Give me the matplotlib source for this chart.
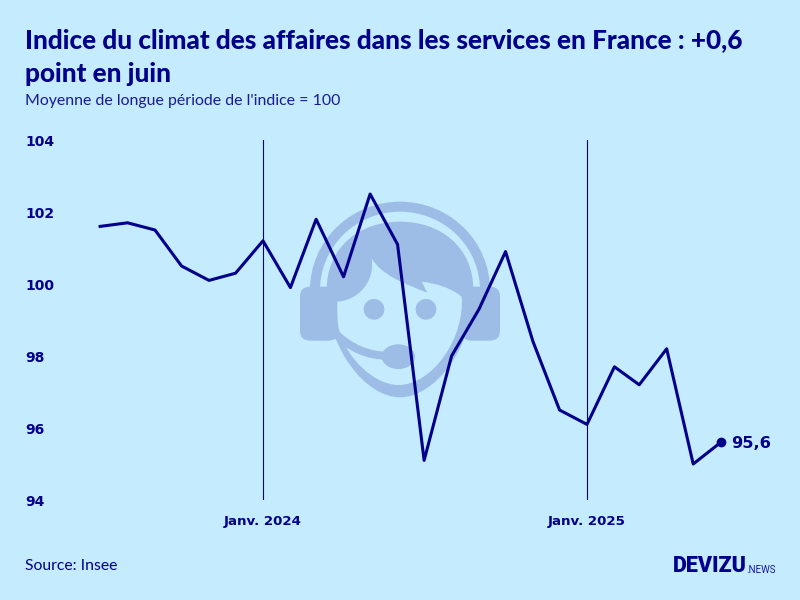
import datetime as dt
import matplotlib
matplotlib.use("Agg")
import matplotlib.pyplot as plt
import matplotlib.dates as mdates
from matplotlib.patches import Circle, Ellipse, FancyBboxPatch, PathPatch
from matplotlib.path import Path

years = [2023]*6 + [2024]*12 + [2025]*6
months = [7, 8, 9, 10, 11, 12] + list(range(1, 13)) + list(range(1, 7))
values = [101.6, 101.7, 101.5, 100.5, 100.1, 100.3, 101.2, 99.9, 101.8, 100.2, 102.5, 101.1,
          95.1, 98.0, 99.3, 100.9, 98.4, 96.5, 96.1, 97.7, 97.2, 98.2, 95.0, 95.6]
y_ticks = [94, 96, 98, 100, 102, 104]
x_marks = [dt.date(2024, 1, 1), dt.date(2025, 1, 1)]
x_labels = ["Janv. 2024", "Janv. 2025"]
title_lines = ["Indice du climat des affaires dans les services en France : +0,6", "point en juin"]
subtitle = "Moyenne de longue période de l'indice = 100"
source = "Source: Insee"
end_label = "95,6"

BG = "#C4EBFE"
NAVY = "#00008B"
ICON = "#9DBCE6"
dates = [dt.date(y, m, 1) for y, m in zip(years, months)]

fig = plt.figure(figsize=(8, 6), dpi=100, facecolor=BG)

# decorative icon, background layer (units: 1/3 px, origin at 290,190)
ic = fig.add_axes([0, 0, 1, 1], zorder=0)
ic.set_xlim(-870, 1530)
ic.set_ylim(1230, -570)
ic.axis("off")
ic.add_patch(Ellipse((330, 300), 540, 530, fc=ICON, ec="none"))
ic.add_patch(Ellipse((330, 300), 480, 470, fc=BG, ec="none"))
ic.fill_between([0, 660], 290, 700, color=BG, lw=0, zorder=1)
for x0 in (30, 515):
    ic.add_patch(FancyBboxPatch((x0 + 30, 320), 55, 102, boxstyle="round,pad=30,rounding_size=30",
                                fc=ICON, ec="none", zorder=2))
M, C, Z = Path.MOVETO, Path.CURVE4, Path.CLOSEPOLY
head = [(110, 300), (110, 170), (210, 95), (330, 95), (450, 95), (550, 170), (550, 300),
        (550, 480), (430, 622), (330, 622), (230, 622), (110, 480), (110, 300), (110, 300)]
ic.add_patch(PathPatch(Path(head, [M] + [C]*12 + [Z]), fc=ICON, ec="none", zorder=3))
face = [(142, 335), (210, 330), (255, 270), (245, 205),
        (275, 255), (340, 280), (412, 308),
        (405, 295), (400, 285), (395, 275),
        (440, 280), (485, 295), (515, 320),
        (525, 440), (430, 585), (325, 585),
        (250, 585), (170, 500), (150, 430),
        (140, 400), (142, 360), (142, 335), (142, 335)]
ic.add_patch(PathPatch(Path(face, [M] + [C]*21 + [Z]), fc=BG, ec="none", zorder=4))
boom = [(125, 420), (180, 478), (240, 497), (290, 497)]
ic.add_patch(PathPatch(Path(boom, [M, C, C, C]), fc="none", ec=ICON, lw=5.8, zorder=5))
ic.add_patch(Ellipse((325, 500), 100, 74, fc=ICON, ec="none", zorder=5))
for ex in (252, 408):
    ic.add_patch(Circle((ex, 358), 31, fc=ICON, ec="none", zorder=5))

# main chart: 0.8852 px per day, Jan 2024 at x=263 px
left, right, top, bottom = 60, 775, 140, 500
ref = mdates.date2num(x_marks[0])
ppd = 324 / 366
ax = fig.add_axes([left/800, 1 - bottom/600, (right-left)/800, (bottom-top)/600], zorder=2)
ax.patch.set_alpha(0)
ax.set_xlim(ref + (left-263)/ppd, ref + (right-263)/ppd)
ax.set_ylim(94, 104)
for s in ax.spines.values():
    s.set_visible(False)
for d in x_marks:
    ax.axvline(d, color="#00006E", lw=0.8, zorder=1)
ax.plot(dates, values, color=NAVY, lw=2.2, solid_joinstyle="round", zorder=3)
ax.plot(dates[-1], values[-1], "o", color=NAVY, ms=7, mec="none", zorder=4)
ax.annotate(end_label, (dates[-1], values[-1]), xytext=(7.5, -0.8), textcoords="offset points",
            va="center", ha="left", color=NAVY, fontsize=11.7, fontweight="bold", family="DejaVu Sans")
ax.set_yticks(y_ticks)
ax.set_yticklabels([str(v) for v in y_ticks], family="DejaVu Sans", fontweight="bold",
                   fontsize=10, color=NAVY, ha="left")
ax.set_xticks(x_marks)
ax.set_xticklabels(x_labels, family="DejaVu Sans", fontweight="bold", fontsize=9.6, color=NAVY)
ax.tick_params(axis="both", length=0)
ax.tick_params(axis="x", pad=11)
ax.tick_params(axis="y", pad=25.2)

for line, ypx in zip(title_lines, (40, 74)):
    fig.text(25/800, 1 - ypx/600, line, family="Lato", fontweight="black", fontsize=18.8, color=NAVY,
             va="center", ha="left")
fig.text(25/800, 1 - 101/600, subtitle, family="Lato", fontsize=11.4, color="#1A1A96", va="center", ha="left")
fig.text(25/800, 1 - 565.5/600, source, family="Lato", fontsize=11.3, color=NAVY, va="center", ha="left")
fig.text(673/800, 1 - 566/600, "DEVIZU", family="Roboto", fontweight="black", fontsize=15.5, color=NAVY,
         va="center", ha="left")
fig.text(746/800, 1 - 570/600, ".NEWS", family="Roboto", fontweight="regular", fontsize=7, color="#1A1A96",
         va="center", ha="left")

fig.savefig("out.png", dpi=100, facecolor=BG)
